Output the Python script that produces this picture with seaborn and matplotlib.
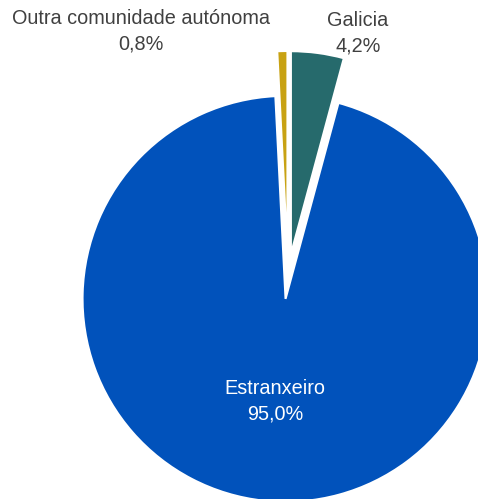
import matplotlib
matplotlib.use("Agg")
import matplotlib.pyplot as plt
import seaborn as sns

# Datos: procedencia (%)
categorias = ["Galicia", "Estranxeiro", "Outra comunidade autónoma"]
valores = [4.2, 95.0, 0.8]
cores = ["#266A6C", "#0152BB", "#C8A213"]

sns.set_theme(style="white")
plt.rcParams["font.family"] = ["Liberation Sans", "DejaVu Sans"]

W, H = 478, 499
fig = plt.figure(figsize=(W / 100, H / 100), dpi=100)
ax = fig.add_axes([0, 0, 1, 1])

# centro do pastel en px (orixe arriba á esquerda)
cx, cy, r = 288, 276, 203
# en matplotlib o explode vai en unidades de datos (aquí px)
separacion = [22, 23, 22]

ax.pie(valores, colors=cores, explode=separacion, startangle=90,
       counterclock=False, radius=r, center=(cx, H - cy),
       wedgeprops={"edgecolor": "white", "linewidth": 1.5})

def etiqueta(nome, valor, x, y, cor):
    txt = f"{nome}\n{valor:.1f}%".replace(".", ",")
    ax.text(x, H - y, txt, ha="center", va="center", fontsize=14.3,
            color=cor, linespacing=1.4)

etiqueta(categorias[2], valores[2], 141, 31, "#404040")
etiqueta(categorias[0], valores[0], 358, 33, "#404040")
etiqueta(categorias[1], valores[1], 275, 401, "white")

ax.set_xlim(0, W)
ax.set_ylim(0, H)
ax.set_aspect("equal")
ax.axis("off")

fig.savefig("out.png", dpi=100)
